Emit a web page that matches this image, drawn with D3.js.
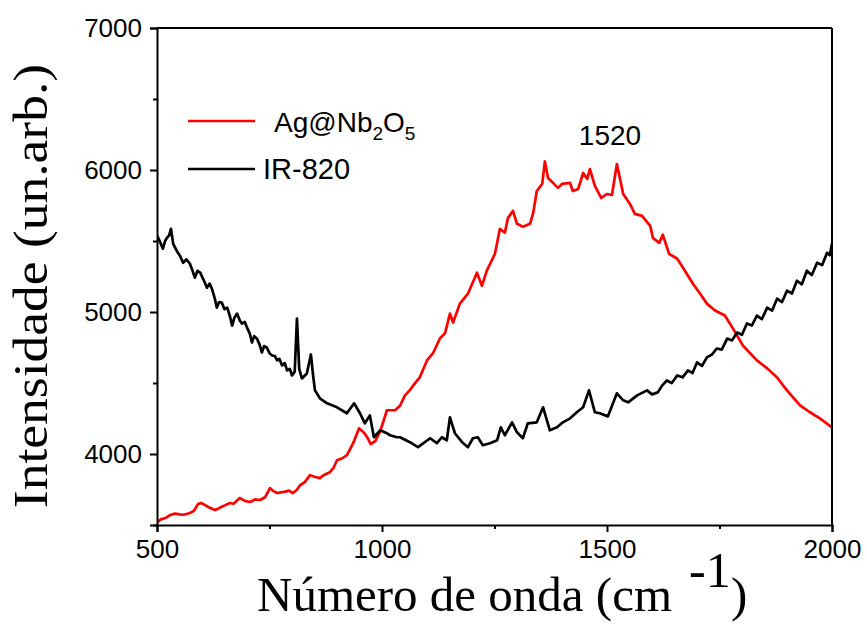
<!DOCTYPE html>
<html><head><meta charset="utf-8">
<script src="https://cdn.jsdelivr.net/npm/d3@7"></script>
<style>body{margin:0;background:#fff}svg{display:block}</style>
</head><body>
<svg id="c" width="867" height="625"></svg>
<script>
const agWave = [502,508,515,522,529,540,550,560,573,582,591,598,607,615,629,636,645,652,662,670,684,695,707,718,729,740,751,758,767,775,785,793,802,810,818,828,840,850,862,870,884,892,900,912,922,936,949,960,967,975,985,996,1011,1029,1040,1051,1062,1073,1084,1100,1113,1129,1140,1151,1158,1173,1191,1211,1222,1233,1251,1262,1273,1280,1291,1300,1313,1329,1336,1344,1356,1362,1369,1380,1391,1400,1418,1424,1436,1447,1456,1462,1473,1487,1500,1511,1522,1536,1551,1562,1578,1596,1602,1616,1624,1638,1656,1669,1691,1707,1722,1740,1762,1780,1802,1833,1856,1878,1900,1929,1951,1973,2000];
const agInt = [3520,3540,3545,3555,3570,3580,3575,3572,3584,3600,3647,3655,3640,3625,3605,3615,3630,3640,3655,3650,3690,3670,3662,3680,3676,3695,3760,3740,3725,3730,3735,3742,3725,3745,3780,3800,3851,3840,3830,3850,3872,3900,3956,3970,3992,4076,4181,4150,4118,4070,4090,4160,4308,4308,4340,4413,4450,4497,4540,4659,4708,4815,4850,4989,4926,5059,5129,5277,5185,5291,5410,5586,5558,5663,5712,5621,5600,5621,5698,5852,5902,6060,5944,5909,5874,5902,5909,5852,5867,5979,5937,6007,5888,5803,5831,5824,6042,5831,5761,5691,5677,5607,5522,5487,5544,5410,5375,5312,5199,5129,5059,5010,4975,4883,4764,4659,4603,4539,4448,4343,4294,4251,4188];
const irWave = [500,506,513,518,522,527,531,536,544,551,558,565,573,578,584,590,596,603,611,617,622,628,633,638,644,650,656,662,667,672,678,684,689,695,700,706,711,716,722,728,733,738,744,750,756,762,767,772,778,784,789,795,800,806,811,816,822,833,842,847,851,862,878,900,922,938,951,962,973,982,996,1011,1018,1033,1040,1062,1080,1107,1122,1133,1144,1151,1162,1178,1191,1202,1213,1224,1240,1256,1264,1273,1289,1300,1313,1324,1344,1358,1373,1389,1402,1418,1433,1447,1460,1473,1484,1502,1522,1536,1547,1567,1589,1600,1613,1622,1633,1644,1656,1668,1680,1690,1700,1711,1722,1733,1744,1755,1767,1778,1789,1800,1811,1822,1833,1844,1856,1867,1878,1889,1900,1911,1922,1933,1944,1955,1967,1978,1989,1995,2000];
const irInt = [5540,5500,5445,5500,5522,5540,5586,5480,5430,5396,5347,5370,5340,5300,5242,5290,5277,5230,5171,5200,5164,5100,5031,5070,5066,5020,5031,4970,4904,4960,4989,4940,4918,4930,4890,4850,4785,4830,4813,4770,4715,4760,4750,4710,4694,4690,4659,4670,4624,4640,4589,4600,4553,4580,4954,4600,4532,4567,4701,4550,4448,4392,4357,4329,4287,4357,4287,4216,4272,4118,4167,4146,4132,4118,4118,4083,4048,4111,4076,4118,4097,4258,4146,4083,4048,4111,4118,4062,4076,4097,4188,4132,4223,4153,4111,4216,4223,4329,4167,4188,4223,4251,4294,4329,4448,4294,4287,4265,4427,4378,4364,4413,4448,4420,4434,4480,4518,4500,4553,4540,4589,4570,4645,4620,4680,4700,4743,4735,4813,4800,4855,4840,4919,4905,4975,4950,5031,5010,5094,5070,5150,5130,5220,5195,5291,5260,5347,5330,5417,5400,5480];
const xTicks = [500,1000,1500,2000];
const xMinorTicks = [750,1250,1750];
const yTicks = [4000,5000,6000,7000];
const yMinorTicks = [3500,4500,5500,6500];
const seriesNames = ["Ag@Nb2O5","IR-820"];
const seriesColors = ["#ff0000","#000000"];

const svg = d3.select("#c");
const m = {l:157,t:28,r:35,b:100};
const W = 867-m.l-m.r, H = 625-m.t-m.b;
const x = d3.scaleLinear().domain([500,2000]).range([0,W]);
const y = d3.scaleLinear().domain([3500,7000]).range([H,0]);
const g = svg.append("g").attr("transform",`translate(${m.l},${m.t})`);

svg.append("defs").append("clipPath").attr("id","cp").append("rect").attr("width",W).attr("height",H);

const line = d3.line().x(d=>x(d[0])).y(d=>y(d[1]));
const agData = agWave.map((w,i)=>[w,agInt[i]]);
const irData = irWave.map((w,i)=>[w,irInt[i]]);
const pl = g.append("g").attr("clip-path","url(#cp)");
pl.append("path").datum(agData).attr("d",line).attr("fill","none").attr("stroke",seriesColors[0]).attr("stroke-width",2.7).attr("stroke-linejoin","round");
pl.append("path").datum(irData).attr("d",line).attr("fill","none").attr("stroke",seriesColors[1]).attr("stroke-width",2.7).attr("stroke-linejoin","round");

// axes
const fs = "'Liberation Sans', Arial, sans-serif";
const xAx = g.append("g").attr("transform",`translate(0,${H})`).call(d3.axisBottom(x).tickValues(xTicks).tickSize(7).tickPadding(8).tickFormat(d3.format("d")));
const xMin = g.append("g").attr("transform",`translate(0,${H})`).call(d3.axisBottom(x).tickValues(xMinorTicks).tickSize(4).tickFormat(""));
const yAx = g.append("g").call(d3.axisLeft(y).tickValues(yTicks).tickSize(7).tickPadding(8).tickFormat(d3.format("d")));
const yMin = g.append("g").call(d3.axisLeft(y).tickValues(yMinorTicks).tickSize(4).tickFormat(""));
[xAx,xMin,yAx,yMin].forEach(a=>{a.select(".domain").attr("stroke-width",2);a.selectAll(".tick line").attr("stroke-width",2);});
[xMin,yMin].forEach(a=>a.select(".domain").remove());
xAx.selectAll("text").attr("font-family",fs).attr("font-size",26).attr("fill","#000");
yAx.selectAll("text").attr("font-family",fs).attr("font-size",26).attr("fill","#000").attr("dy","0.34em");
// frame top/right
g.append("line").attr("x1",0).attr("x2",W).attr("y1",0).attr("y2",0).attr("stroke","#000").attr("stroke-width",2);
g.append("line").attr("x1",W).attr("x2",W).attr("y1",0).attr("y2",H).attr("stroke","#000").attr("stroke-width",2);

// axis titles
const serif = "'Liberation Serif','Times New Roman',serif";
svg.append("text").attr("transform","translate(47,286) rotate(-90) scale(1.115,1)").attr("text-anchor","middle")
  .attr("font-family",serif).attr("font-size",48).text("Intensidade (un.arb.)");
const xt = svg.append("text").attr("x",257).attr("y",611).attr("font-family",serif).attr("font-size",49);
xt.append("tspan").text("Número de onda (cm");
xt.append("tspan").attr("x",689).attr("dy",-24).attr("font-size",50).text("-1");
xt.append("tspan").attr("x",731).attr("dy",24).text(")");

// legend
const lg = svg.append("g");
lg.append("line").attr("x1",188).attr("x2",255).attr("y1",121).attr("y2",121).attr("stroke",seriesColors[0]).attr("stroke-width",2.6);
lg.append("line").attr("x1",188).attr("x2",255).attr("y1",169).attr("y2",169).attr("stroke",seriesColors[1]).attr("stroke-width",2.6);
const t1 = lg.append("text").attr("x",274).attr("y",132).attr("font-family",fs).attr("font-size",28);
t1.append("tspan").text("Ag@Nb");
t1.append("tspan").attr("font-size",19).attr("dy",8).text("2");
t1.append("tspan").attr("dy",-8).text("O");
t1.append("tspan").attr("font-size",19).attr("dy",8).text("5");
lg.append("text").attr("x",263).attr("y",179).attr("font-family",fs).attr("font-size",29).text(seriesNames[1]);

// annotation
svg.append("text").attr("x",m.l+x(1520)-6).attr("y",145).attr("text-anchor","middle").attr("font-family",fs).attr("font-size",28).text("1520");
</script>
</body></html>
